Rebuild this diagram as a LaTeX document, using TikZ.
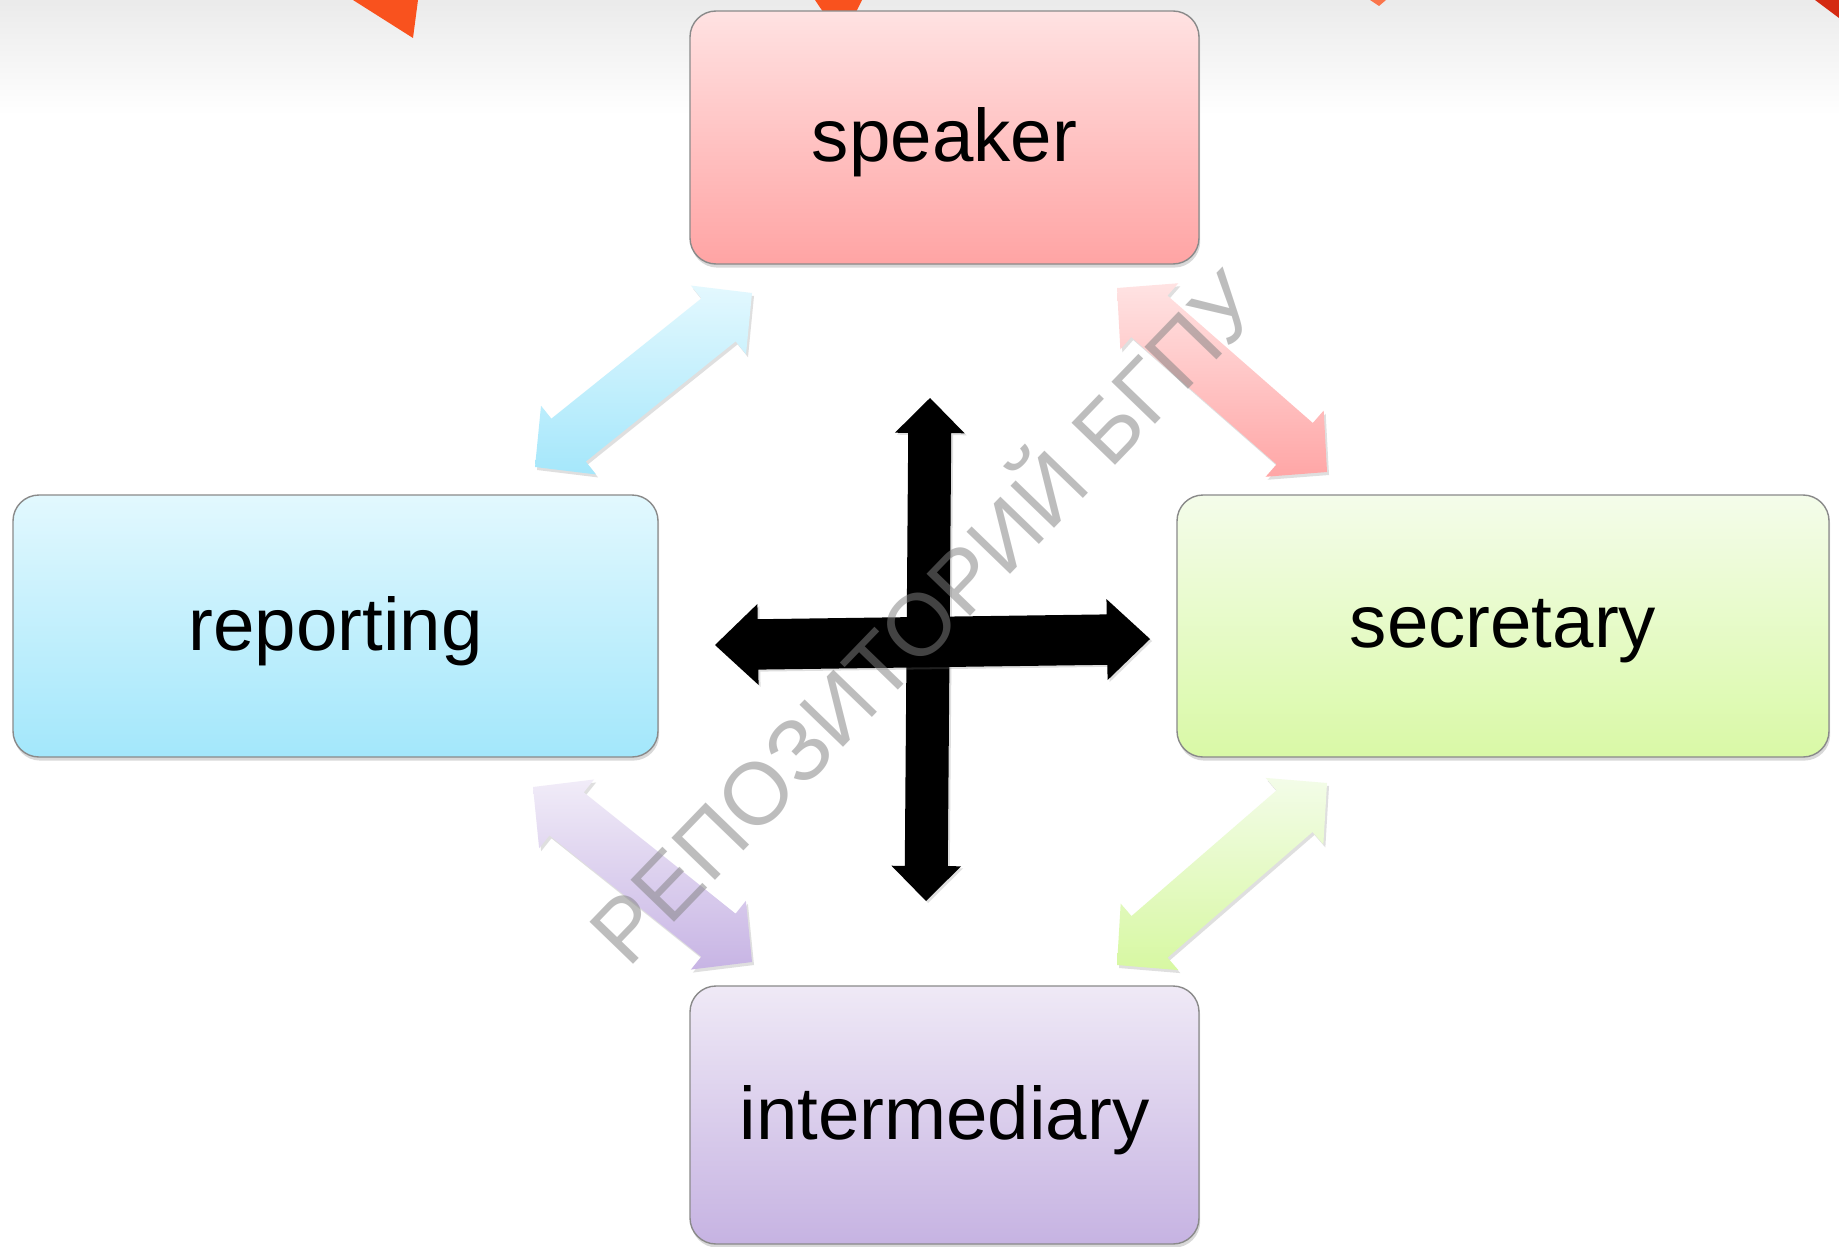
\documentclass[tikz,border=0pt]{standalone}
\usepackage{fontspec}
\setmainfont{Liberation Sans}
\usetikzlibrary{calc,shadows}
\definecolor{spkT}{HTML}{FFE2E2}
\definecolor{spkB}{HTML}{FFA4A4}
\definecolor{repT}{HTML}{E2F8FE}
\definecolor{repB}{HTML}{A3E7FB}
\definecolor{secT}{HTML}{F4FCEA}
\definecolor{secB}{HTML}{D9F9A6}
\definecolor{intT}{HTML}{EFE9F6}
\definecolor{intB}{HTML}{C6B3E2}
\definecolor{blT}{HTML}{E3F8FE}
\definecolor{blB}{HTML}{A5E7FB}
\definecolor{pkT}{HTML}{FFE3E3}
\definecolor{pkB}{HTML}{FFA6A6}
\definecolor{puT}{HTML}{F1ECF8}
\definecolor{puB}{HTML}{C7B4E4}
\definecolor{grT}{HTML}{F3FCE8}
\definecolor{grB}{HTML}{D7F8A2}
\definecolor{boxline}{HTML}{8A8A8A}
\definecolor{tri}{HTML}{F9521E}
\definecolor{trid}{HTML}{D42A12}
\definecolor{wm}{HTML}{828282}
% block double arrow: #1 name, #2 tip A, #3 tip B, #4 half shaft, #5 half head, #6 head length, #7 style
\newcommand\blockarr[7]{%
  \coordinate (#1a) at ($(#2)!#6!(#3)$);
  \coordinate (#1b) at ($(#3)!#6!(#2)$);
  \path[#7] (#2) -- ($(#1a)!#5!90:(#2)$) -- ($(#1a)!#4!90:(#2)$)
    -- ($(#1b)!#4!-90:(#3)$) -- ($(#1b)!#5!-90:(#3)$) -- (#3)
    -- ($(#1b)!#5!90:(#3)$) -- ($(#1b)!#4!90:(#3)$)
    -- ($(#1a)!#4!-90:(#2)$) -- ($(#1a)!#5!-90:(#2)$) -- cycle;}
\newcommand\tx[1]{\raisebox{-2.5pt}[\height][\depth]{#1}}
\tikzset{
  box/.style={rounded corners=13pt, draw=boxline, line width=0.7pt, inner sep=0pt,
    font=\fontsize{37.25pt}{44pt}\selectfont,
    drop shadow={shadow xshift=0.6pt, shadow yshift=-1.8pt, opacity=0.3}},
  diag/.style={drop shadow={shadow xshift=1pt, shadow yshift=-1.5pt, opacity=0.25}},
  blk/.style={fill=black, drop shadow={shadow xshift=1pt, shadow yshift=-1pt, opacity=0.25}},
}
\begin{document}
\begin{tikzpicture}[x=0.5pt, y=-0.5pt]
\useasboundingbox (0,0) rectangle (1839,1246);
\fill[white] (0,0) rectangle (1839,1246);
% top background band
\shade[top color=black!8, bottom color=white] (0,0) rectangle (1839,115);
% orange shapes at the top
\fill[tri] (353,0) -- (418,0) -- (413,38) -- cycle;
\fill[tri] (815,0) -- (862,0) -- (842,40) -- cycle;
\fill[tri!80] (1370,0) -- (1386,0) -- (1379,6) -- cycle;
\fill[trid] (1815,0) -- (1839,0) -- (1839,18) -- cycle;
% boxes
\node[box, minimum width=254.5pt, minimum height=126.5pt, top color=spkT, bottom color=spkB] (speaker) at (944.5,137.5) {\tx{speaker}};
\node[box, minimum width=322.5pt, minimum height=131pt, top color=repT, bottom color=repB] (reporting) at (335.5,626) {\tx{reporting}};
\node[box, minimum width=326pt, minimum height=131pt, top color=secT, bottom color=secB] (secretary) at (1503,626) {\tx{secretary}};
\node[box, minimum width=254.5pt, minimum height=129pt, top color=intT, bottom color=intB] (intermediary) at (944.5,1115) {\tx{intermediary}};
% arrow end points
\coordinate (b1) at (535,467);  \coordinate (b2) at (752,293);
\coordinate (p1) at (1117,288); \coordinate (p2) at (1327,472);
\coordinate (v1) at (533,787);  \coordinate (v2) at (752,962);
\coordinate (g1) at (1327,783); \coordinate (g2) at (1117,965);
\coordinate (cT) at (930,398);  \coordinate (cB) at (926,901);
\coordinate (cL) at (715,645);  \coordinate (cR) at (1150,639);
% diagonal block arrows
\blockarr{bl}{b1}{b2}{13.75pt}{22pt}{21.5pt}{diag, top color=blT, bottom color=blB}
\blockarr{pk}{p1}{p2}{13.75pt}{22pt}{21.5pt}{diag, top color=pkT, bottom color=pkB}
\blockarr{pu}{v1}{v2}{13.75pt}{22pt}{21.5pt}{diag, top color=puT, bottom color=puB}
\blockarr{gr}{g1}{g2}{13.75pt}{22pt}{21.5pt}{diag, top color=grT, bottom color=grB}
% central cross
\blockarr{vt}{cT}{cB}{10.75pt}{17.4pt}{17.5pt}{blk}
\blockarr{hz}{cL}{cR}{12.6pt}{20.25pt}{21.5pt}{blk}
% watermark
\node[rotate=46, text=wm, text opacity=0.52, inner sep=0pt,
      font=\fontsize{44pt}{50pt}\selectfont] (wmark) at (919.5,612) {РЕПОЗИТОРИЙ БГПУ};
\end{tikzpicture}
\end{document}
